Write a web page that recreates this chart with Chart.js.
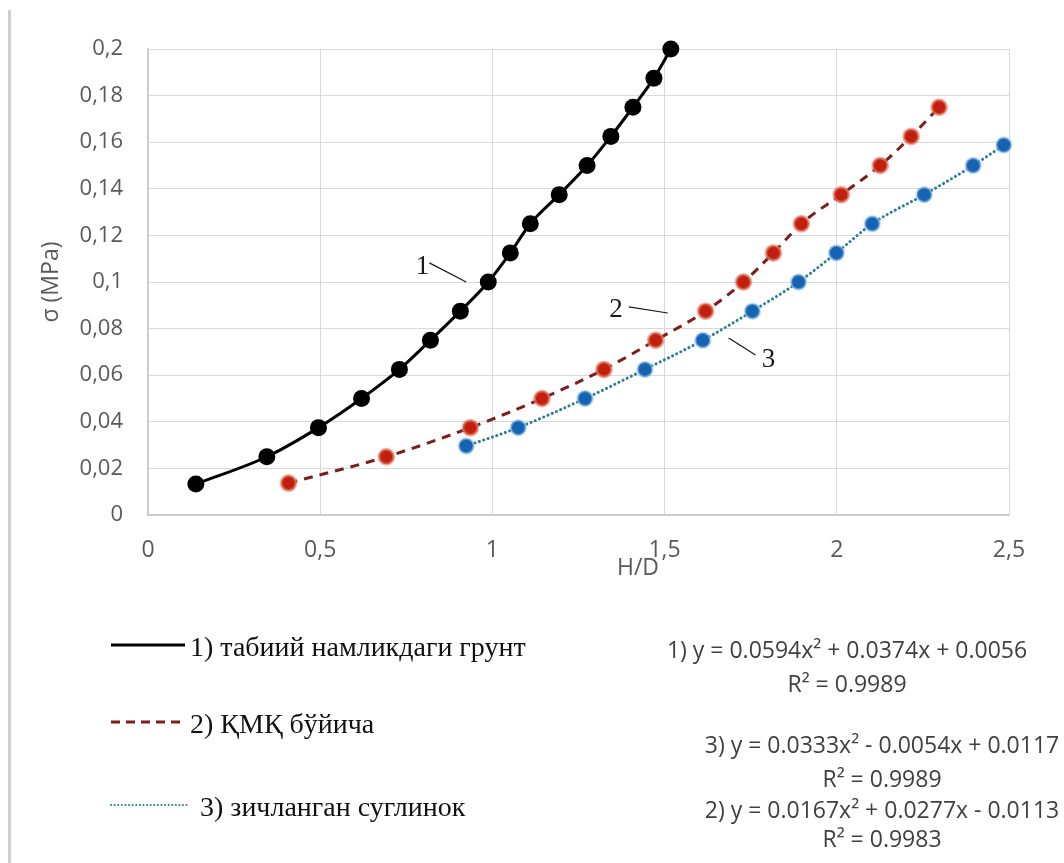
<!DOCTYPE html>
<html>
<head>
<meta charset="utf-8">
<script src="https://cdn.jsdelivr.net/npm/chart.js@4.4.1/dist/chart.umd.min.js"></script>
<style>
  html, body { margin: 0; padding: 0; background: #ffffff; }
  #wrap { position: relative; width: 1064px; height: 863px; overflow: hidden; }
  #pageLine { position: absolute; left: 8px; top: 10px; width: 3px; height: 853px; background: #cfcfcf; }
  canvas { position: absolute; left: 0; top: 0; }
</style>
</head>
<body>
<div id="wrap">
  <div id="pageLine"></div>
  <canvas id="c" width="1064" height="863"></canvas>
</div>
<script>
// ---- data ----
const seriesNames = ["1) табиий намликдаги грунт", "2) ҚМҚ бўйича", "3) зичланган суглинок"];

const xSoil = [0.139, 0.345, 0.495, 0.620, 0.730, 0.820, 0.907, 0.988, 1.052, 1.110, 1.194, 1.275, 1.344, 1.408, 1.469, 1.518];
const ySoil = [0.0133, 0.025, 0.0375, 0.05, 0.0625, 0.075, 0.0875, 0.1, 0.1125, 0.125, 0.1375, 0.15, 0.1625, 0.175, 0.1875, 0.2];

const xKMK = [0.408, 0.692, 0.936, 1.144, 1.324, 1.474, 1.619, 1.729, 1.816, 1.897, 2.013, 2.126, 2.216, 2.297];
const yKMK = [0.0137, 0.025, 0.0375, 0.05, 0.0625, 0.075, 0.0875, 0.1, 0.1125, 0.125, 0.1375, 0.15, 0.1625, 0.175];

const xLoam = [0.924, 1.075, 1.269, 1.443, 1.611, 1.755, 1.889, 1.999, 2.103, 2.254, 2.396, 2.485];
const yLoam = [0.0296, 0.0375, 0.05, 0.0625, 0.075, 0.0875, 0.1, 0.1125, 0.125, 0.1375, 0.15, 0.1588];

const xTicks = [0, 0.5, 1, 1.5, 2, 2.5];
const yTicks = [0, 0.02, 0.04, 0.06, 0.08, 0.1, 0.12, 0.14, 0.16, 0.18, 0.2];

const xTitle = "H/D";
const yTitle = "σ (MPa)";

const equations = [
  ["1) y = 0.0594x² + 0.0374x + 0.0056", "R² = 0.9989"],
  ["3) y = 0.0333x² - 0.0054x + 0.0117", "R² = 0.9989"],
  ["2) y = 0.0167x² + 0.0277x - 0.0113", "R² = 0.9983"]
];

// curve labels with leader lines, in data units
const curveLabels = [
  { text: "1", at: [0.797, 0.1064], from: [0.817, 0.1082], to: [0.924, 0.1] },
  { text: "2", at: [1.359, 0.088], from: [1.396, 0.0893], to: [1.509, 0.0867] },
  { text: "3", at: [1.802, 0.0665], from: [1.686, 0.076], to: [1.764, 0.0687] }
];

const zip = (xs, ys) => xs.map((x, i) => ({ x: x, y: ys[i] }));
const fmt = v => String(Number(v.toFixed(3))).replace('.', ',');

const SANS = "'Open Sans', 'Liberation Sans', sans-serif";
const SERIF = "'Liberation Serif', 'DejaVu Serif', serif";

const styles = [
  { line: '#000000', dash: [], width: 3, cap: 'butt', pt: '#000000', ptBorder: '#000000', ptBW: 0 },
  { line: '#7d1d1d', dash: [9, 7], width: 3, cap: 'butt', pt: '#c1200e', ptBorder: 'rgba(228,128,106,0.6)', ptBW: 3 },
  { line: '#2a7f93', dash: [0.1, 4.5], width: 3, cap: 'round', pt: '#1663b3', ptBorder: 'rgba(150,195,235,0.55)', ptBW: 2.5 }
];

function ds(i, data) {
  const s = styles[i];
  return {
    label: seriesNames[i],
    data: data,
    borderColor: s.line,
    borderWidth: s.width,
    borderDash: s.dash,
    borderCapStyle: s.cap,
    backgroundColor: s.pt,
    pointBackgroundColor: s.pt,
    pointBorderColor: s.ptBorder,
    pointBorderWidth: s.ptBW,
    pointRadius: s.ptBW ? 7.5 : 8.5,
    cubicInterpolationMode: 'monotone',
    fill: false,
    clip: false
  };
}

const overlay = {
  id: 'overlay',
  afterDatasetsDraw(chart) {
    const ctx = chart.ctx;
    const xs = chart.scales.x, ys = chart.scales.y;
    ctx.save();
    ctx.fillStyle = '#1a1a1a';
    ctx.strokeStyle = '#1a1a1a';
    ctx.lineWidth = 1.2;
    ctx.font = "27px " + SERIF;
    ctx.textAlign = 'center';
    ctx.textBaseline = 'middle';
    curveLabels.forEach(l => {
      ctx.fillText(l.text, xs.getPixelForValue(l.at[0]), ys.getPixelForValue(l.at[1]));
      ctx.beginPath();
      ctx.moveTo(xs.getPixelForValue(l.from[0]), ys.getPixelForValue(l.from[1]));
      ctx.lineTo(xs.getPixelForValue(l.to[0]), ys.getPixelForValue(l.to[1]));
      ctx.stroke();
    });
    ctx.restore();
  },
  afterDraw(chart) {
    const ctx = chart.ctx;
    ctx.save();
    // axis titles
    ctx.fillStyle = '#595959';
    ctx.font = "23px " + SANS;
    ctx.textAlign = 'center';
    ctx.textBaseline = 'middle';
    ctx.fillText(xTitle, 638, 568);
    ctx.save();
    ctx.translate(51, 282);
    ctx.rotate(-Math.PI / 2);
    ctx.fillText(yTitle, 0, 0);
    ctx.restore();

    // legend
    const legendRows = [
      { y: 645, x1: 111, x2: 185, tx: 190, base: 656 },
      { y: 722, x1: 111, x2: 181, tx: 190, base: 733 },
      { y: 805, x1: 111, x2: 187, tx: 200, base: 816 }
    ];
    legendRows.forEach((r, i) => {
      const s = styles[i];
      ctx.save();
      ctx.strokeStyle = s.line;
      ctx.lineWidth = i === 2 ? 2 : s.width;
      ctx.lineCap = s.cap;
      ctx.setLineDash(i === 2 ? [0.1, 3.5] : (i === 1 ? [9, 6] : []));
      ctx.beginPath();
      ctx.moveTo(r.x1, r.y);
      ctx.lineTo(r.x2, r.y);
      ctx.stroke();
      ctx.restore();
      ctx.fillStyle = '#111111';
      ctx.font = "28px " + SERIF;
      ctx.textAlign = 'left';
      ctx.textBaseline = 'alphabetic';
      ctx.fillText(seriesNames[i], r.tx, r.base);
    });

    // trendline equations
    ctx.fillStyle = '#404040';
    ctx.font = "23px " + SANS;
    ctx.textAlign = 'center';
    ctx.textBaseline = 'alphabetic';
    const eqPos = [
      { cx: 847, b1: 658, b2: 692 },
      { cx: 882, b1: 753, b2: 787 },
      { cx: 882, b1: 818, b2: 847 }
    ];
    equations.forEach((e, i) => {
      ctx.fillText(e[0], eqPos[i].cx, eqPos[i].b1);
      ctx.fillText(e[1], eqPos[i].cx, eqPos[i].b2);
    });
    ctx.restore();
  }
};

new Chart(document.getElementById('c'), {
  type: 'line',
  data: {
    datasets: [ds(0, zip(xSoil, ySoil)), ds(1, zip(xKMK, yKMK)), ds(2, zip(xLoam, yLoam))]
  },
  options: {
    responsive: false,
    maintainAspectRatio: false,
    animation: false,
    parsing: true,
    layout: { padding: { left: 9, top: 49, right: 55, bottom: 0 } },
    plugins: { legend: { display: false }, tooltip: { enabled: false }, title: { display: false } },
    scales: {
      x: {
        type: 'linear',
        min: 0, max: 2.5,
        afterBuildTicks: s => { s.ticks = xTicks.map(v => ({ value: v })); },
        afterFit: s => { s.height = 348; },
        grid: { color: '#d9d9d9', lineWidth: 1, drawTicks: false },
        border: { color: '#c8c8c8', width: 1.5 },
        ticks: { padding: 22, color: '#595959', font: { family: SANS, size: 23 }, callback: v => fmt(v), maxRotation: 0 }
      },
      y: {
        type: 'linear',
        min: 0, max: 0.2,
        afterBuildTicks: s => { s.ticks = yTicks.map(v => ({ value: v })); },
        afterFit: s => { s.width = 139; },
        grid: { color: '#d9d9d9', lineWidth: 1, drawTicks: false },
        border: { color: '#c8c8c8', width: 1.5 },
        ticks: { padding: 25, color: '#595959', font: { family: SANS, size: 22 }, callback: v => fmt(v) }
      }
    }
  },
  plugins: [overlay]
});
</script>
</body>
</html>
